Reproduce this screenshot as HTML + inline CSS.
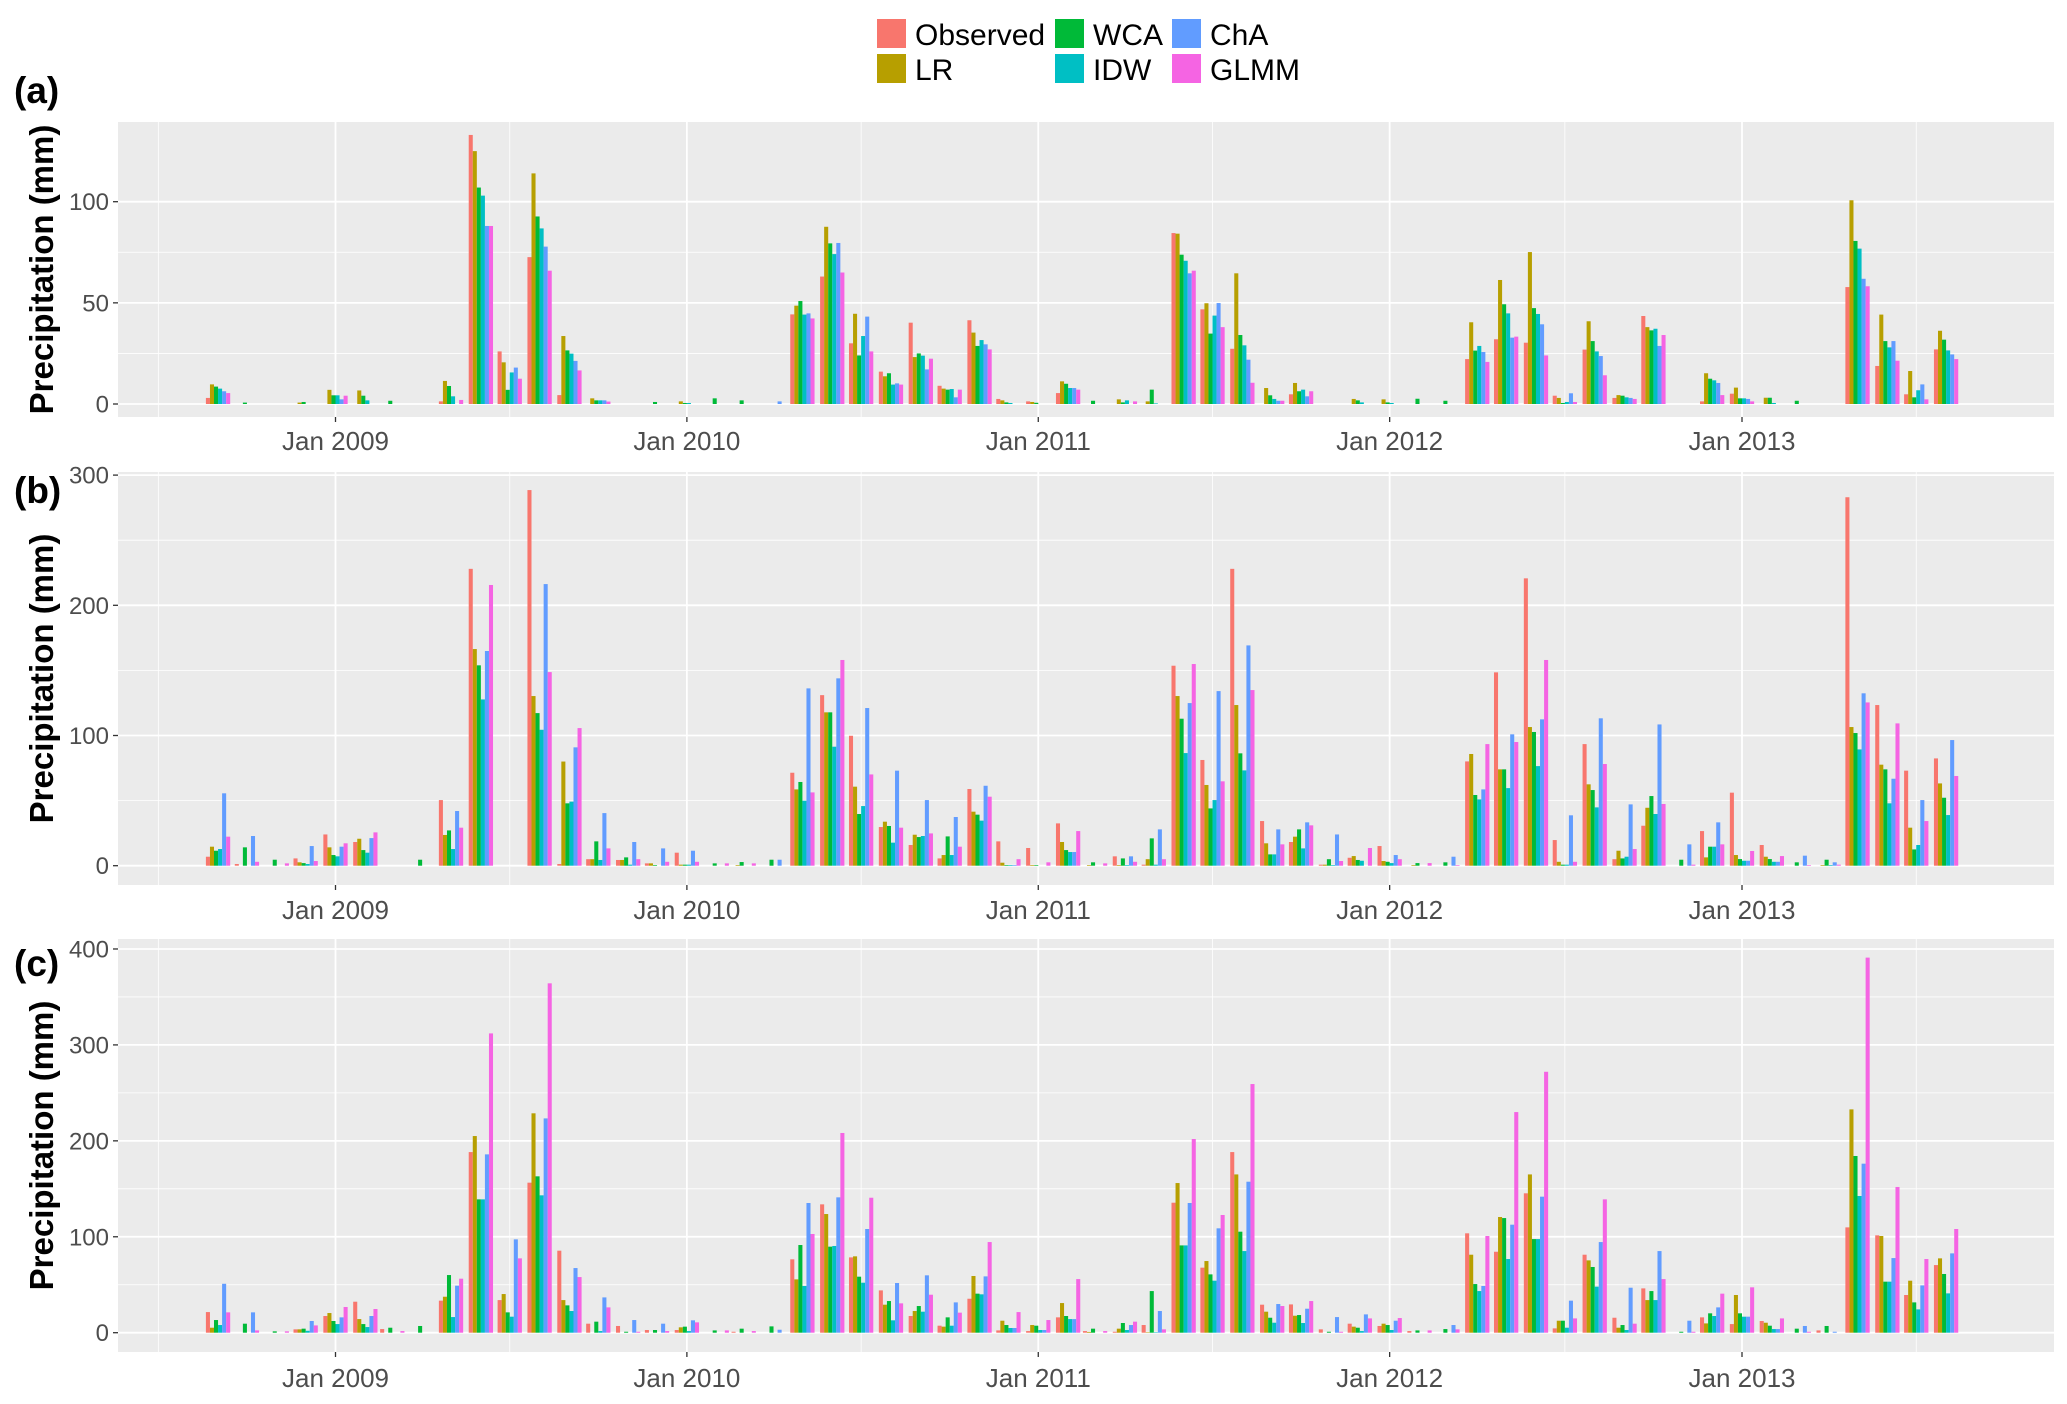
<!DOCTYPE html>
<html>
<head>
<meta charset="utf-8">
<style>
html,body{margin:0;padding:0;background:#fff;}
svg{display:block;font-family:"Liberation Sans",Arial,sans-serif;}
</style>
</head>
<body>
<svg id="chart" width="2067" height="1404" viewBox="0 0 2067 1404" xmlns="http://www.w3.org/2000/svg">
  <g id="legend">
    <g><rect x="877" y="19" width="29" height="29" fill="#F8766D"/><text x="915" y="45" font-size="30" fill="#000">Observed</text></g>
    <g><rect x="877" y="54" width="29" height="29" fill="#B79F00"/><text x="915" y="80" font-size="30" fill="#000">LR</text></g>
    <g><rect x="1055" y="19" width="29" height="29" fill="#00BA38"/><text x="1093" y="45" font-size="30" fill="#000">WCA</text></g>
    <g><rect x="1055" y="54" width="29" height="29" fill="#00BFC4"/><text x="1093" y="80" font-size="30" fill="#000">IDW</text></g>
    <g><rect x="1172" y="19" width="29" height="29" fill="#619CFF"/><text x="1210" y="45" font-size="30" fill="#000">ChA</text></g>
    <g><rect x="1172" y="54" width="29" height="29" fill="#F564E3"/><text x="1210" y="80" font-size="30" fill="#000">GLMM</text></g>
  </g>
</svg>
<script>
// Series names (legend order) and colours
const seriesNames = ["Observed","LR","WCA","IDW","ChA","GLMM"];
const seriesColors = ["#F8766D","#B79F00","#00BA38","#00BFC4","#619CFF","#F564E3"];
// Months: Sep 2008 .. Aug 2013 (60 months)
const startYear = 2008, startMonth = 8, monthCount = 60;
const xTickYears = [2009,2010,2011,2012,2013];
const xTickLabels = ["Jan 2009","Jan 2010","Jan 2011","Jan 2012","Jan 2013"];
// Panel (a)
const aTicks = [0,50,100];
const aObs = [3,0,0,0,0,0,0,0,1.3,133,26,72.6, 4.4,0,0,0,0,0,0,0,44.3,63,30,16, 40.2,9,41.4,2.5,1.3,5.4,0,0,0,84.5,46.8,27.3, 0,4.8,0,0,0,0,0,22.2,32,30.3,4.1,26.9, 3,43.5,0,1.3,5.1,0,0,0,57.8,18.8,4.8,27];
const aLR = [9.7,0,0,0.7,7,6.7,0,0,11.4,125,20.6,114, 33.6,2.8,0,0,1.3,0,0,0,48.6,87.6,44.6,13.7, 23.2,7.6,35.3,1.8,1,11.2,0,2.3,1.3,84.2,49.8,64.6, 7.9,10.4,0,2.5,2.3,0,0,40.4,61.3,75.1,3,40.9, 4.4,38,0,15.2,8.1,3.1,0,0,100.7,44.2,16.3,36.2];
const aWCA = [8.6,0.7,0,1,4.3,4.1,1.6,0,8.9,107,7,92.7, 26.5,1.8,0,1,0.5,2.8,1.8,0,50.9,79.4,24,15.2, 25,7.1,28.7,0.8,0.6,10,1.6,0.8,7.1,73.8,34.8,34.1, 4.3,6.3,0,1.8,0.8,2.6,1.6,26.4,49.3,47.4,0.5,31.1, 4.1,36.4,0,12.5,2.8,3.1,1.6,0,80.6,31.1,3.3,31.8];
const aIDW = [7.6,0,0,0,4.3,1.8,0,0,3.8,103,15.6,86.8, 24.9,1.8,0,0,0.5,0,0,0,44.2,74.1,33.6,9.6, 23.9,7.4,31.6,0.5,0,7.9,0,1.8,0.3,70.8,43.7,29, 2.5,7.1,0,0.8,0.5,0,0,28.7,44.8,44.5,1,26, 3.3,37.2,0,11.7,2.8,0.5,0,0,76.8,28,6.8,26.5];
const aChA = [6.3,0,0,0,2.3,0,0,0,0,88,18,77.8, 21.3,1.8,0,0,0,0,0,1.3,44.8,79.6,43.2,10.2, 17.1,3.3,29.5,0,0,7.9,0,0,0,64.6,49.9,21.9, 1.6,3.8,0,0,0,0,0,25.7,32.8,39.4,5.3,23.7, 3,28.7,0,10.4,2.5,0,0,0,61.9,31.1,9.7,24.5];
const aGLMM = [5.4,0,0,0,4.1,0,0,0,2,88,12.5,65.9, 16.6,1.2,0,0,0,0,0,0,42.3,65,26,9.6, 22.4,7.1,27,0,0,7.1,0,1.3,0,65.9,38,10.5, 1.6,6.3,0,0,0,0,0,20.8,33.3,24,1,14.2, 2.5,34.1,0,4.4,1.3,0,0,0,58.2,21.4,2.3,22.2];
// Panel (b)
const bTicks = [0,100,200,300];
const bObs = [6.9,1.3,0,5.6,24,18.2,0,0,50.4,228,0,288.5, 1.3,5,4.4,1.8,10,0,0,0,71.4,131,99.8,29.7, 15.9,5.6,58.9,18.7,13.6,32.5,0,7.2,0.8,153.6,81.2,228, 34.3,18.2,0.8,6.1,15.1,0,0,80.1,148.5,220.7,19.7,93.4, 5,30.7,0,26.6,56.1,15.9,0,0,283,123.4,73,82.4];
const bLR = [14.6,0,0,2.6,14.1,20.7,0,0,23.6,166.4,0,130.3, 80,5,4.4,1.8,0.8,0,0.5,0,58.6,117.8,60.7,33.8, 23.8,8.2,41.5,2.3,0.5,18.2,0.5,0.5,5,130.3,62,123.4, 17.2,22.3,0.8,7.4,3.6,0.5,0,85.8,74,106.5,3,62.5, 11.5,44.5,0,6.4,8.2,6.9,0,0.5,106.5,77.6,29.2,63.2];
const bWCA = [11.5,14.1,4.6,2,8.2,12,0,4.6,27.1,153.9,0,117.2, 47.9,18.7,6.4,0.5,0.8,1.8,2.8,4.6,64.3,117.8,39.7,30.5, 22,22.5,39.2,0.5,0.5,12,2.6,5.6,21,112.9,44,86.3, 8.7,27.9,5,4.4,3,2,2.6,54.3,74,102.7,0.8,58.1, 5.6,53.5,4.6,14.6,5.1,5.1,2.6,4.6,101.9,74,12.5,52.2];
const bIDW = [12.8,0,0,1.3,7.2,10,0,0,12.8,127.7,0,104.4, 49.2,4.4,0.8,0,0.8,0,0,0,49.9,91.4,45.8,17.7, 22.8,8.2,34.6,0.5,0,10.5,0,0.5,0.8,86.5,50.4,73.2, 8.7,13.3,0.5,3.8,2,0,0,50.9,59.6,76.5,0.8,44.8, 6.9,39.7,0,14.6,3.8,3,0,0.5,89.3,47.9,15.9,38.9];
const bChA = [55.6,22.8,0,15.1,14.6,21.2,0,0,42,164.9,0,216.3, 90.9,40.4,18.2,13.3,11.5,0,0,4.6,136.2,143.9,121.1,73, 50.4,37.4,61.4,0.5,0,10.5,0,7.2,27.9,124.9,134.1,169.2, 27.9,33.3,24,0,8.2,0,6.9,58.6,100.9,112.4,38.7,113.2, 47.1,108.5,16.4,33.3,3.8,3,7.7,2.6,132.4,66.8,50.4,96.5];
const bGLMM = [22.3,3,1.8,3.6,17.2,25.6,0,0,29.2,215.6,0,148.7, 105.7,13.3,5,3,3,1.8,1.8,0,56.3,158,70.1,29.2, 24.8,14.6,53,5,2.6,26.6,1.8,3,5,154.9,64.8,134.9, 16.4,31,3.6,13.6,5,2,0.5,93.4,95,158,3,78.1, 12.8,47.4,0.8,16.4,11.3,7.4,0.5,0.8,125.4,109.3,34.3,68.9];
// Panel (c)
const cTicks = [0,100,200,300,400];
const cObs = [21.5,0,0,3.5,17.4,32.3,3.8,0,33.4,188.3,34,156.4, 85.5,9.4,7,2.8,2.8,0,1,0,76.5,133.8,78.5,44.1, 17.4,7.3,35.4,2.4,1.7,16,1.7,1,8,135.5,67.8,188.3, 29.2,29.5,3.5,9.4,7,1.7,0,103.6,84.4,145.3,4.5,81.3, 15.6,46.2,0,16,9,12.2,0,2.4,109.8,101.5,39.3,70.5];
const cLR = [5.2,0,0,3.5,20.5,14.2,0,0,37.5,205,40.3,228.7, 34,0,0,0,5.6,0,0,0,55.6,123.7,79.6,29.2, 22.6,6.3,59.1,12.5,8,30.9,0.8,4.2,0.5,156,74.7,165, 21.9,17.7,0,6.3,9.4,0,0,81.3,120.6,165,12.5,75.4, 5.2,34,0,9.7,39.3,10.4,0,0,232.8,100.8,54.2,77.5];
const cWCA = [13.2,9.4,1.4,4.2,12.2,9,5.2,7,60.1,139,21.2,163, 28.5,11.5,1,2.8,6.3,2.4,4.2,6.6,91.4,89.7,58.4,33, 27.8,16,40.7,8,7.3,17.4,4.2,10.1,43.4,91,60.8,105.3, 15.6,18.4,1,5.2,8,2.4,3.8,50.7,119.5,97.6,12.5,68.5, 8,43.4,1,20.2,20.2,7.3,4.2,7,184.2,53.2,31.6,61.2];
const cIDW = [8,0,0,2,9,5.9,0,0,16.3,139,16.7,143.2, 22.6,1.7,0,0,1.7,0,0,0,48.7,90.4,52.1,12.9, 21.9,7.3,40,4.9,2.8,14.2,0,2.8,0.5,91,54.2,85.1, 10.4,10.1,0,1.7,2.8,0,0,43.4,76.8,97.6,5.2,48, 2.8,34,0,17.4,16.7,3.8,0,0,142.5,53.2,24.3,41];
const cChA = [51,21.2,0,12.2,16,17.4,0,0,49,185.9,97.3,223.4, 67.4,36.8,13.2,9.4,12.9,0,0,3.1,135.2,141.1,108.1,51.8, 59.8,31.6,58.7,4.9,2.8,14.2,0,8,22.6,135.2,108.8,157.4, 29.9,25,16.3,19.1,12.5,0,8,48.7,112.6,141.8,33.4,94.5, 46.9,85.1,12.5,26.4,16.7,3.8,7,1,176.2,77.8,49.3,82.7];
const cGLMM = [21.2,2.4,1.4,7.6,26.8,24.7,1.7,0,56.3,312,77.5,364.2, 58,26.4,1,1.7,10.8,2.4,1.7,0,102.9,208.2,140.7,30.6, 39.6,20.9,94.5,21.5,13.2,55.9,1.7,11.5,3.5,201.9,122.7,259.2, 27.8,33,1,14.9,15.3,2.4,3.5,100.8,230,272,14.9,139, 9.4,55.9,1,40.7,47.3,14.9,1,0,391,151.9,76.8,108.1];

const NS = "http://www.w3.org/2000/svg";
const svg = document.getElementById("chart");
function mk(tag, attrs, parent){
  const e = document.createElementNS(NS, tag);
  for (const k in attrs) e.setAttribute(k, attrs[k]);
  (parent||svg).appendChild(e);
  return e;
}
const X0 = 335.5, PX_PER_DAY = 0.9627, REF = Date.UTC(2009,0,1);
function xOfDate(y, m){ return X0 + (Date.UTC(y, m, 1) - REF) / 86400000 * PX_PER_DAY; }
const PL = 118, PR = 2054;
const GROUP_W = 24.3, BAR_W = GROUP_W / 6;

const panels = [
  {key:"a", label:"(a)", top:122, bottom:417, zero:404, ppu:2.023, ticks:aTicks, series:[aObs,aLR,aWCA,aIDW,aChA,aGLMM], labelY:103, xLabY:450},
  {key:"b", label:"(b)", top:472, bottom:885, zero:865.7, ppu:1.302, ticks:bTicks, series:[bObs,bLR,bWCA,bIDW,bChA,bGLMM], labelY:503, xLabY:919},
  {key:"c", label:"(c)", top:939, bottom:1352, zero:1332.7, ppu:0.9593, ticks:cTicks, series:[cObs,cLR,cWCA,cIDW,cChA,cGLMM], labelY:976, xLabY:1387}
];

panels.forEach(p => {
  const g = mk("g", {});
  
  
  const yOf = v => p.zero - v * p.ppu;
  const bg = mk("rect", {x:PL, y:p.top, width:PR-PL, height:p.bottom-p.top, fill:"#EBEBEB"}, g);
  
  
  for (let i = 0; i < p.ticks.length - 1; i++) {
    const v = (p.ticks[i] + p.ticks[i+1]) / 2;
    const l = mk("line", {x1:PL, x2:PR, y1:yOf(v), y2:yOf(v), stroke:"#fff", "stroke-width":0.8}, g);
    
    
  }
  for (let y = 2008; y <= 2013; y++) {
    const x = xOfDate(y, 6);
    const l = mk("line", {x1:x, x2:x, y1:p.top, y2:p.bottom, stroke:"#fff", "stroke-width":0.8}, g);
    
    
  }
  p.ticks.forEach(v => {
    const y = yOf(v);
    const l = mk("line", {x1:PL, x2:PR, y1:y, y2:y, stroke:"#fff", "stroke-width":1.8}, g);
    
    
    const tk = mk("line", {x1:PL-5, x2:PL, y1:y, y2:y, stroke:"#333", "stroke-width":1.3}, g);
    
    
    const t = mk("text", {x:PL-9, y:y+8.5, "font-size":24, fill:"#4D4D4D", "text-anchor":"end"}, g);
    t.textContent = String(v);
    
    
  });
  xTickYears.forEach((yr, k) => {
    const x = xOfDate(yr, 0);
    const l = mk("line", {x1:x, x2:x, y1:p.top, y2:p.bottom, stroke:"#fff", "stroke-width":1.8}, g);
    
    
    const tk = mk("line", {x1:x, x2:x, y1:p.bottom, y2:p.bottom+5, stroke:"#333", "stroke-width":1.3}, g);
    
    
    const t = mk("text", {x:x, y:p.xLabY, "font-size":26, fill:"#4D4D4D", "text-anchor":"middle"}, g);
    t.textContent = xTickLabels[k];
    
    
  });
  for (let i = 0; i < monthCount; i++) {
    const cx = xOfDate(startYear, startMonth + i);
    p.series.forEach((arr, s) => {
      const v = arr[i];
      if (!v) return;
      const y = yOf(v);
      const r = mk("rect", {x:cx - GROUP_W/2 + s*BAR_W, y:y, width:BAR_W, height:p.zero - y, fill:seriesColors[s]}, g);
      
      
    });
  }
  const cy = (p.top + p.bottom) / 2;
  const at = mk("text", {x:0, y:0, transform:"translate(53," + cy + ") rotate(-90)", "font-size":33, "font-weight":"bold", fill:"#000", "text-anchor":"middle"}, g);
  at.textContent = "Precipitation (mm)";
  
  
  const pl = mk("text", {x:14, y:p.labelY, "font-size":37, "font-weight":"bold", fill:"#000"}, g);
  pl.textContent = p.label;
  
  
});
</script>
</body>
</html>
